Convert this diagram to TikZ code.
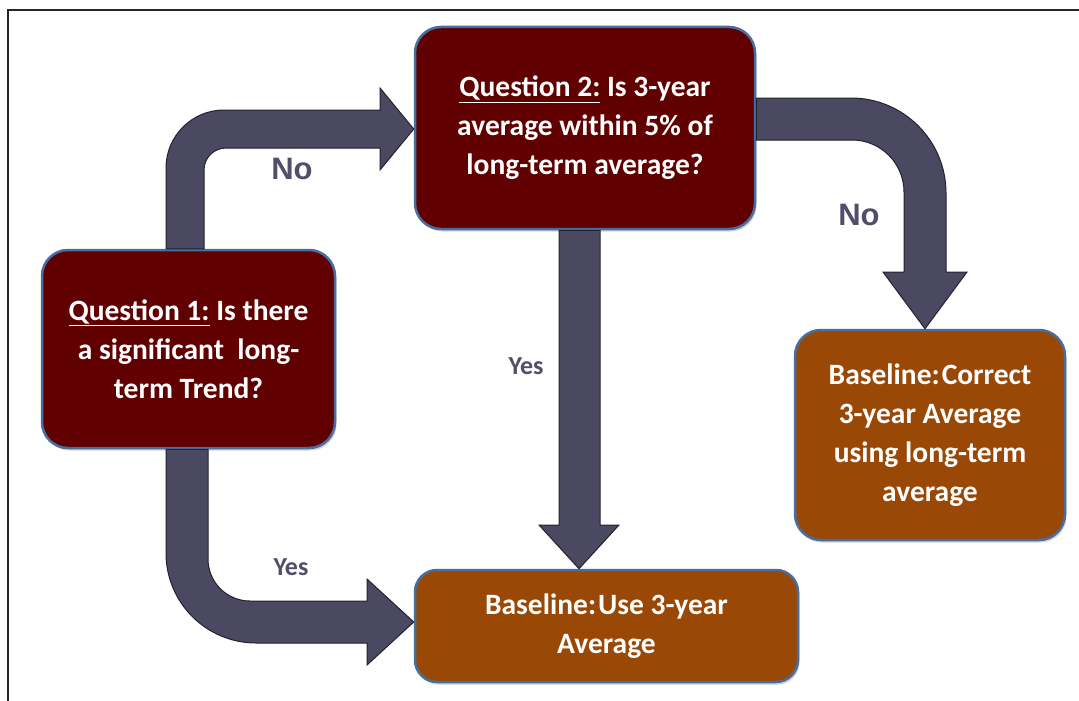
\documentclass[tikz,border=0pt]{standalone}
\usepackage{fontspec}
\setmainfont{Carlito}
\newfontfamily\arialf{Liberation Sans}
\usetikzlibrary{shadows,calc}
\definecolor{qred}{RGB}{96,0,0}
\definecolor{bbrown}{RGB}{153,72,6}
\definecolor{bedge}{RGB}{72,110,160}
\definecolor{afill}{RGB}{75,73,98}
\definecolor{aedge}{RGB}{35,34,48}
\definecolor{lblcol}{RGB}{80,78,105}
\begin{document}
\begin{tikzpicture}[x=1pt,y=-1pt,
 boxbase/.style={draw=bedge, line width=2.5pt, rounded corners=26pt, text=white,
   font=\fontsize{29.5}{39}\selectfont\bfseries, align=center, inner sep=0pt,
   drop shadow={shadow xshift=1.5pt, shadow yshift=-2.5pt, opacity=0.35, fill=gray}},
 qbox/.style={boxbase, fill=qred},
 bbox/.style={boxbase, fill=bbrown},
 blockarrow/.style={fill=afill, draw=aedge, line width=1pt, line join=miter},
 nolabel/.style={text=lblcol, font=\arialf\bfseries\fontsize{31}{31}\selectfont},
 yeslabel/.style={text=lblcol, font=\bfseries\fontsize{26}{26}\selectfont},
 frameline/.style={draw=black!85, line width=2pt}]
\useasboundingbox (0,0) rectangle (1079,701);
\draw[frameline] (8,701) -- (8,10) -- (1079,10);

% boxes
\node[qbox, minimum width=293pt, minimum height=198pt] (q1) at (188.5,349)
  {\underline{Question 1:} Is there\\a significant\ \ long-\\term Trend?};
\node[qbox, minimum width=340pt, minimum height=202pt] (q2) at (585,128)
  {\underline{Question 2:} Is 3-year\\average within 5\% of\\long-term average?};
\node[bbox, minimum width=270pt, minimum height=210pt] (bc) at (930,435)
  {Baseline:\kern2pt Correct\\3-year Average\\using long-term\\average};
\node[bbox, minimum width=383pt, minimum height=112pt, rounded corners=22pt] (bu) at (606.5,626)
  {Baseline:\kern2pt Use 3-year\\Average};

% helper coordinates
\coordinate (yA) at (0,129);
\coordinate (yB) at (0,622);
\coordinate (xC) at (579,0);
\coordinate (xD) at (925,0);

% arrow Q1 -> Q2 (No)
\draw[blockarrow] ($(q1.north)+(-22.5,0)$) -- (166,168)
  arc[start angle=180,end angle=270,radius=58] -- (380,110) -- (380,88)
  -- (q2.west |- yA) -- (380,170) -- (380,148) -- (226,148)
  arc[start angle=270,end angle=180,radius=22] -- ($(q1.north)+(15.5,0)$) -- cycle;

% arrow Q1 -> Baseline Use (Yes)
\draw[blockarrow] ($(q1.south)+(-22.5,0)$) -- (166,553)
  arc[start angle=180,end angle=90,radius=90] -- (367,643) -- (367,665)
  -- (bu.west |- yB) -- (367,579) -- (367,601) -- (250,601)
  arc[start angle=90,end angle=180,radius=42] -- ($(q1.south)+(19.5,0)$) -- cycle;

% arrow Q2 -> Baseline Use (Yes)
\draw[blockarrow] ($(q2.south)+(-26,0)$) -- (559,525) -- (539,525)
  -- (bu.north -| xC) -- (619,525) -- (600,525) -- ($(q2.south)+(15,0)$) -- cycle;

% arrow Q2 -> Baseline Correct (No)
\draw[blockarrow] ($(q2.east)+(0,-30)$) -- (851,98)
  arc[start angle=270,end angle=360,radius=95] -- (946,272) -- (967,272)
  -- (bc.north -| xD) -- (883,272) -- (904,272) -- (904,192)
  arc[start angle=0,end angle=-90,radius=52] -- ($(q2.east)+(0,12)$) -- cycle;

% labels
\node[nolabel] (no1) at (292,169) {No};
\node[nolabel] (no2) at (859,215) {No};
\node[yeslabel] (yes1) at (526,366) {Yes};
\node[yeslabel] (yes2) at (291,567) {Yes};
\end{tikzpicture}
\end{document}
